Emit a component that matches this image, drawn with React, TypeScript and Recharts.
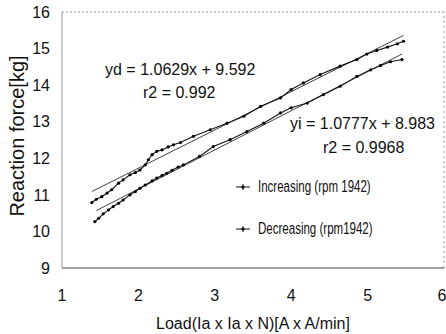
import { LineChart, Line, XAxis, YAxis, ReferenceLine, Legend } from 'recharts';

// decreasing run (upper curve)
const decX = [1.39, 1.45, 1.52, 1.59, 1.65, 1.74, 1.8, 1.89, 1.96, 2.02, 2.09, 2.13, 2.18, 2.24, 2.31, 2.39, 2.46, 2.55, 2.72, 2.94, 3.16, 3.38, 3.6, 3.86, 4.0, 4.16, 4.38, 4.64, 4.86, 4.99, 5.12, 5.26, 5.39, 5.47];
const decY = [10.79, 10.88, 10.95, 11.05, 11.14, 11.32, 11.41, 11.55, 11.61, 11.68, 11.82, 11.96, 12.1, 12.19, 12.23, 12.31, 12.37, 12.43, 12.6, 12.78, 12.96, 13.15, 13.42, 13.65, 13.88, 14.06, 14.29, 14.52, 14.7, 14.85, 14.95, 15.04, 15.13, 15.2];

// increasing run (lower curve)
const incX = [1.43, 1.48, 1.54, 1.61, 1.67, 1.74, 1.8, 1.89, 1.96, 2.02, 2.09, 2.18, 2.24, 2.31, 2.37, 2.44, 2.52, 2.59, 2.8, 2.98, 3.2, 3.42, 3.64, 3.86, 4.0, 4.21, 4.42, 4.64, 4.86, 5.04, 5.17, 5.3, 5.45];
const incY = [10.27, 10.36, 10.48, 10.59, 10.68, 10.77, 10.86, 11.0, 11.09, 11.18, 11.27, 11.38, 11.46, 11.53, 11.59, 11.67, 11.76, 11.82, 12.05, 12.32, 12.51, 12.73, 12.96, 13.24, 13.38, 13.51, 13.74, 13.97, 14.24, 14.42, 14.54, 14.64, 14.7];

// trend line end points as drawn
const fitDecX = [1.39, 5.47];
const fitDecY = [11.09, 15.36];
const fitIncX = [1.45, 5.45];
const fitIncY = [10.57, 14.85];

const xTicks = [1, 2, 3, 4, 5, 6];
const yTicks = [9, 10, 11, 12, 13, 14, 15, 16];

const toPoints = (xs: number[], ys: number[]) => xs.map((x, i) => ({ x, y: ys[i] }));

const decData = toPoints(decX, decY);
const incData = toPoints(incX, incY);
const fitDec = toPoints(fitDecX, fitDecY);
const fitInc = toPoints(fitIncX, fitIncY);

const font = 'Arial, "Liberation Sans", sans-serif';

function LegendBox() {
  const items = ['Increasing (rpm 1942)', 'Decreasing (rpm1942)'];
  return (
    <div style={{ fontFamily: font, fontSize: 16, color: '#111' }}>
      {items.map((name) => (
        <div key={name} style={{ display: 'flex', alignItems: 'center', height: 42 }}>
          <svg width={24} height={12}>
            <line x1={2} y1={6} x2={16} y2={6} stroke="#111" strokeWidth={1} />
            <line x1={9} y1={3} x2={9} y2={9} stroke="#111" strokeWidth={1} />
            <circle cx={9} cy={6} r={1.6} fill="#000" />
          </svg>
          <span style={{ display: 'inline-block', transform: 'scaleX(0.72)', transformOrigin: 'left center', whiteSpace: 'nowrap' }}>
            {name}
          </span>
        </div>
      ))}
    </div>
  );
}

export default function App() {
  return (
    <div style={{ position: 'absolute', left: 0, top: 0, width: 446, height: 334, background: '#fff' }}>
      <LineChart width={446} height={334} margin={{ top: 12, right: 2, bottom: 0, left: 0 }}>
        <XAxis
          type="number"
          dataKey="x"
          domain={[1, 6]}
          ticks={xTicks}
          height={66}
          stroke="#444"
          tickLine={false}
          tickSize={0}
          tickMargin={22}
          tick={{ fill: '#111', fontSize: 16, fontFamily: font }}
          label={{ value: 'Load(Ia x Ia x N)[A x A/min]', position: 'insideBottom', offset: 5, fill: '#111', fontSize: 16, fontFamily: font }}
        />
        <YAxis
          type="number"
          dataKey="y"
          domain={[9, 16]}
          ticks={yTicks}
          width={62}
          stroke="#999"
          tickLine={false}
          tickSize={0}
          tickMargin={12}
          tick={{ fill: '#111', fontSize: 16, fontFamily: font }}
        />
        <ReferenceLine y={16} stroke="#999" strokeDasharray="2 2" />
        <ReferenceLine x={6} stroke="#999" strokeDasharray="2 3" />
        <Line data={fitDec} dataKey="y" stroke="#111" strokeWidth={0.8} dot={false} isAnimationActive={false} legendType="none" />
        <Line data={fitInc} dataKey="y" stroke="#111" strokeWidth={0.8} dot={false} isAnimationActive={false} legendType="none" />
        <Line
          data={incData}
          dataKey="y"
          name="Increasing (rpm 1942)"
          stroke="#111"
          strokeWidth={1.1}
          dot={{ r: 1.6, fill: '#000', stroke: 'none' }}
          isAnimationActive={false}
        />
        <Line
          data={decData}
          dataKey="y"
          name="Decreasing (rpm1942)"
          stroke="#111"
          strokeWidth={1.1}
          dot={{ r: 1.6, fill: '#000', stroke: 'none' }}
          isAnimationActive={false}
        />
        <Legend
          layout="vertical"
          align="center"
          verticalAlign="middle"
          content={<LegendBox />}
          wrapperStyle={{ position: 'absolute', left: 234, top: 166, width: 200 }}
        />
      </LineChart>
      <svg width={446} height={334} style={{ position: 'absolute', left: 0, top: 0, pointerEvents: 'none' }}>
        <g fontFamily={font} fontSize={16} fill="#111">
          <text x={17} y={136} fontSize={20} textAnchor="middle" dominantBaseline="central" transform="rotate(-90 17 136)">
            Reaction force[kg]
          </text>
          <text x={105} y={75}>yd = 1.0629x + 9.592</text>
          <text x={143} y={98}>r2 = 0.992</text>
          <text x={290} y={129}>yi = 1.0777x + 8.983</text>
          <text x={323} y={153}>r2 = 0.9968</text>
        </g>
      </svg>
    </div>
  );
}
